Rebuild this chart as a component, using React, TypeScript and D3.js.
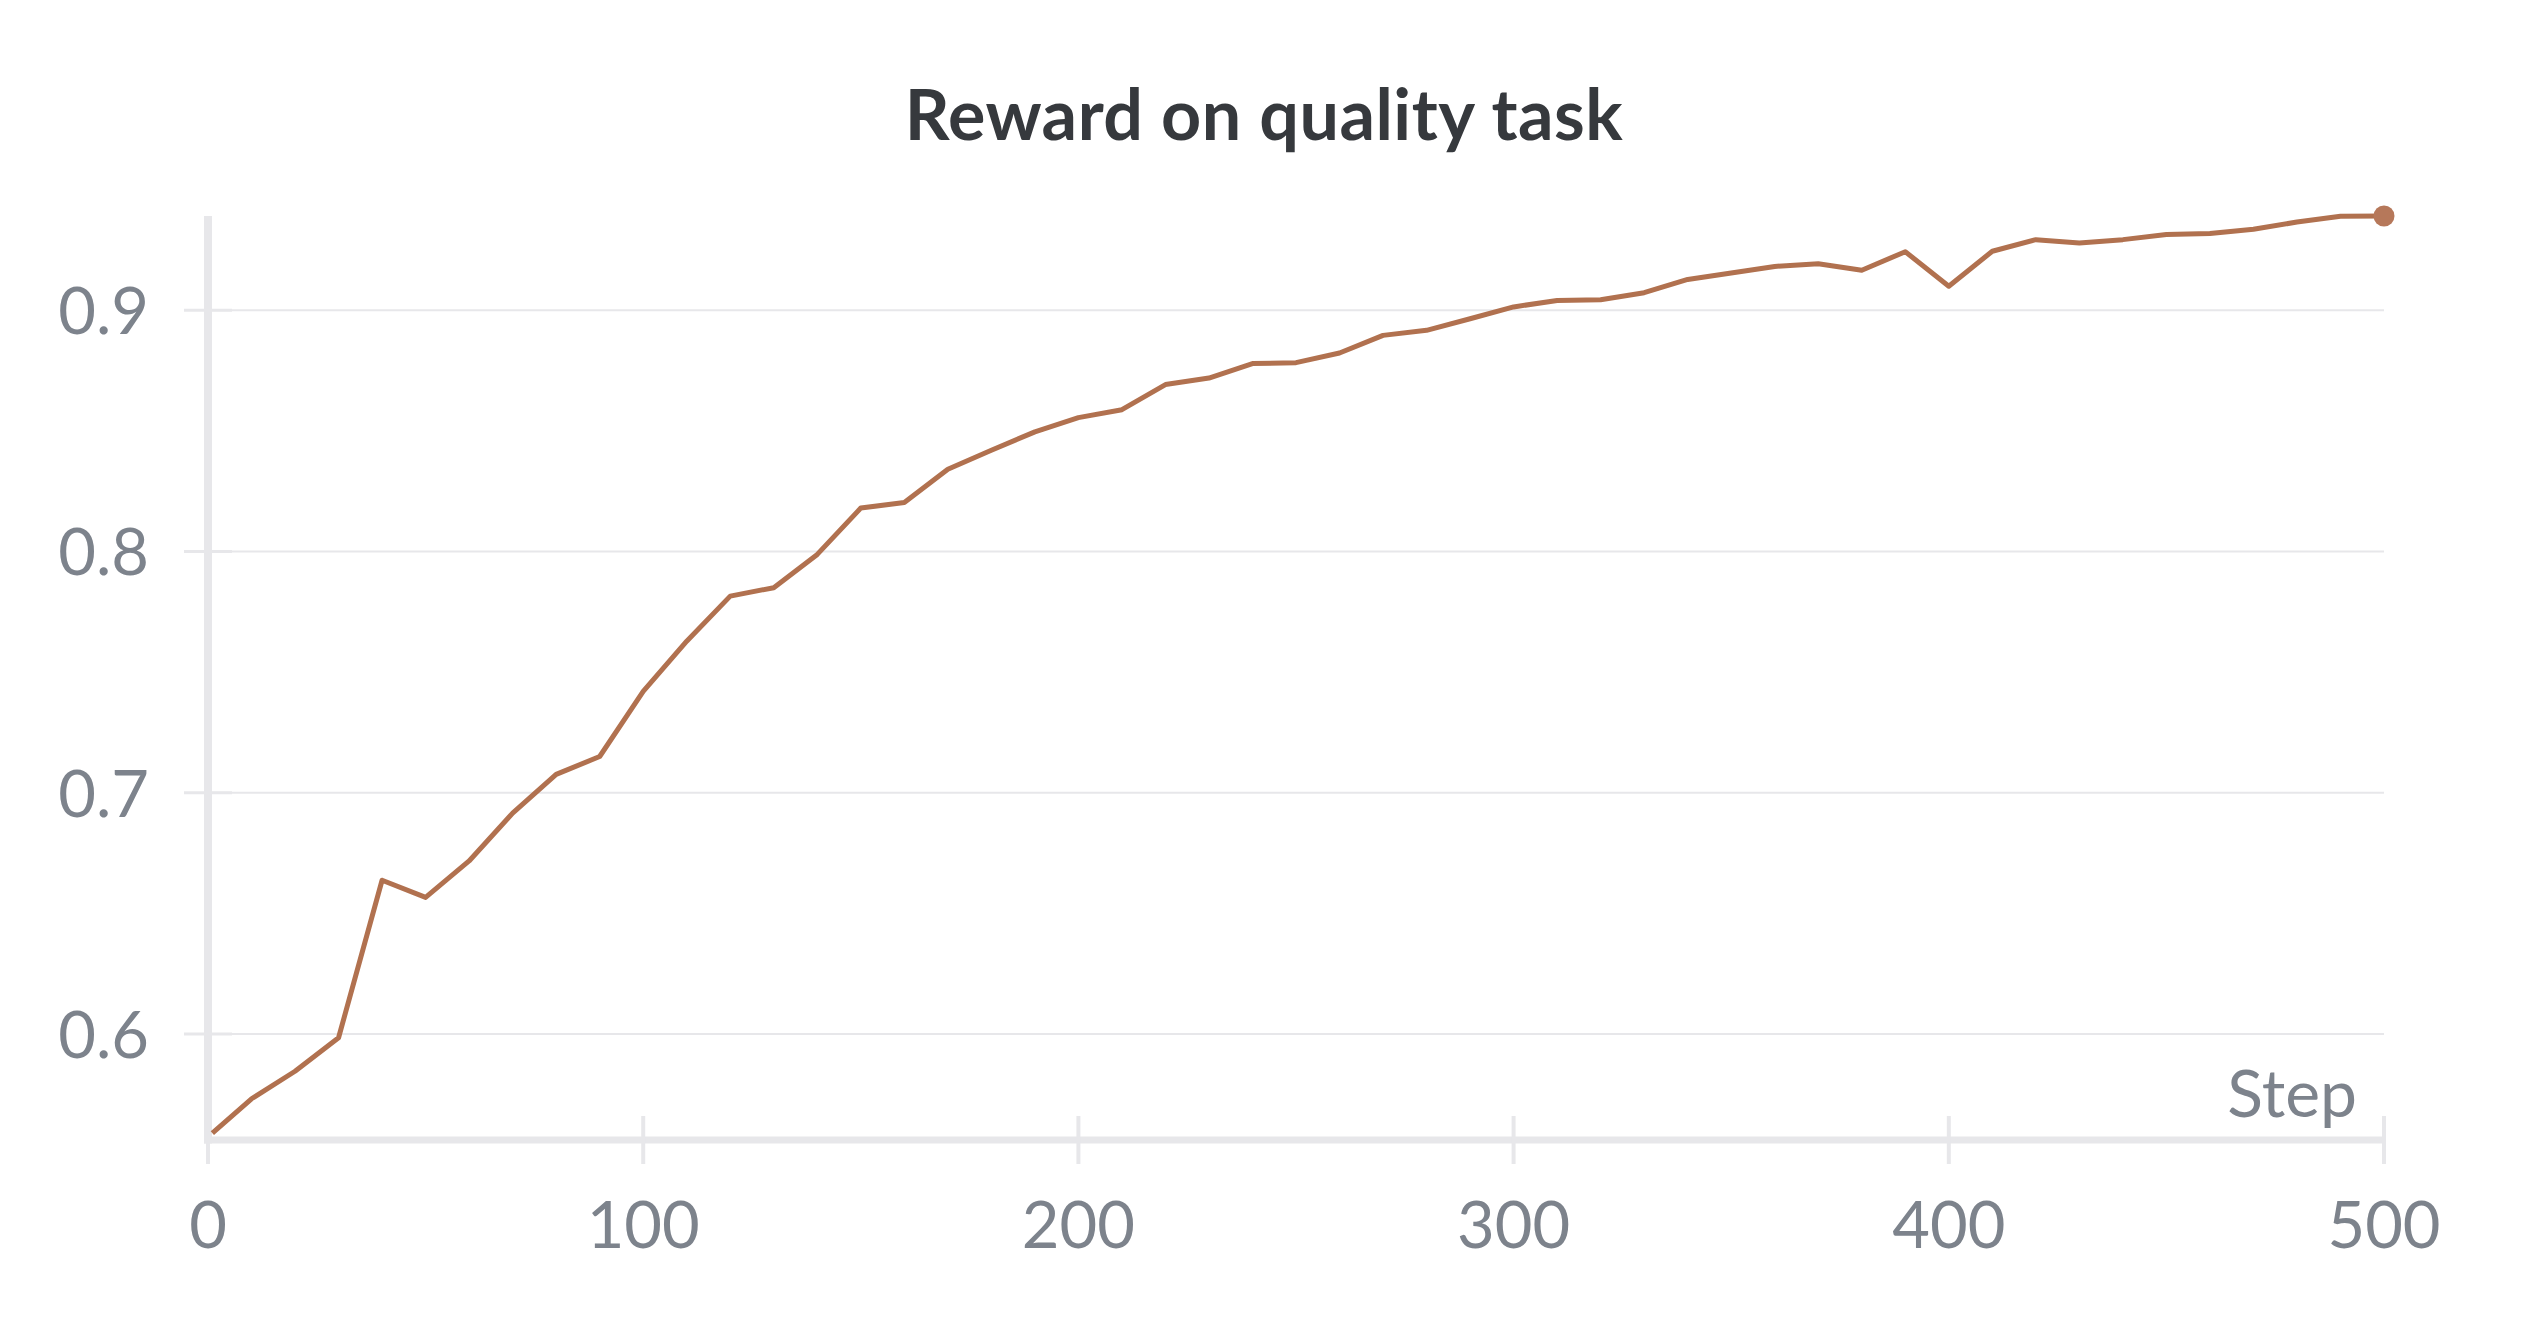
import { useEffect, useRef } from "react";
import * as d3 from "d3";

const steps = [
  1, 10, 20, 30, 40, 50, 60, 70, 80, 90, 100, 110, 120, 130, 140, 150, 160, 170, 180, 190, 200, 210, 220, 230, 240,
  250, 260, 270, 280, 290, 300, 310, 320, 330, 340, 350, 360, 370, 380, 390, 400, 410, 420, 430, 440, 450, 460, 470,
  480, 490, 500,
];

const rewards = [
  0.5588, 0.5731, 0.5845, 0.5984, 0.6637, 0.6566, 0.6717, 0.6915, 0.7076, 0.715, 0.742, 0.7628, 0.7815, 0.785, 0.7988,
  0.818, 0.8203, 0.8341, 0.842, 0.8496, 0.8555, 0.8588, 0.8692, 0.8719, 0.8779, 0.8783, 0.8823, 0.8896, 0.8917, 0.8965,
  0.9014, 0.9041, 0.9044, 0.9073, 0.9128, 0.9155, 0.9182, 0.9193, 0.9166, 0.9243, 0.91, 0.9245, 0.9293, 0.9279, 0.9293,
  0.9314, 0.9318, 0.9336, 0.9366, 0.939, 0.9391,
];

const xTicks = [0, 100, 200, 300, 400, 500];
const yTicks = [0.6, 0.7, 0.8, 0.9];

const title = "Reward on quality task";
const xLabel = "Step";

const yFloor = 0.556;

export default function App() {
  const ref = useRef<SVGSVGElement | null>(null);

  useEffect(() => {
    const node = ref.current;
    if (!node) return;

    const width = 2528;
    const height = 1328;
    const left = 208;
    const right = 2384;
    const top = 216;
    const bottom = 1140;

    const lineColor = "#b1714f";
    const gridColor = "#e7e7ea";
    const textColor = "#7d838c";
    const font = "Lato, 'Open Sans', sans-serif";

    const svg = d3.select(node);
    svg.selectAll("*").remove();
    svg.attr("width", width).attr("height", height).attr("viewBox", `0 0 ${width} ${height}`);

    const x = d3.scaleLinear().domain([0, 500]).range([left, right]);
    const y = d3
      .scaleLinear()
      .domain([yFloor, d3.max(rewards) ?? 1])
      .range([bottom, top]);

    // title
    svg
      .append("text")
      .attr("x", width / 2)
      .attr("y", 140)
      .attr("text-anchor", "middle")
      .attr("font-family", font)
      .attr("font-weight", 700)
      .attr("font-size", 70)
      .attr("letter-spacing", 0.5)
      .attr("fill", "#36393d")
      .text(title);

    // horizontal grid + y ticks
    const grid = svg.append("g");
    grid
      .selectAll("line.grid")
      .data(yTicks)
      .join("line")
      .attr("class", "grid")
      .attr("x1", left)
      .attr("x2", right)
      .attr("y1", (d) => y(d))
      .attr("y2", (d) => y(d))
      .attr("stroke", gridColor)
      .attr("stroke-width", 2);

    grid
      .selectAll("line.ytick")
      .data(yTicks)
      .join("line")
      .attr("class", "ytick")
      .attr("x1", 184)
      .attr("x2", 232)
      .attr("y1", (d) => y(d))
      .attr("y2", (d) => y(d))
      .attr("stroke", gridColor)
      .attr("stroke-width", 3);

    grid
      .selectAll("text")
      .data(yTicks)
      .join("text")
      .attr("x", 149)
      .attr("y", (d) => y(d) + 24)
      .attr("text-anchor", "end")
      .attr("font-family", font)
      .attr("font-size", 65)
      .attr("fill", textColor)
      .text((d) => d3.format(".1f")(d));

    // y axis line
    svg
      .append("line")
      .attr("x1", left)
      .attr("x2", left)
      .attr("y1", top)
      .attr("y2", bottom + 3.5)
      .attr("stroke", gridColor)
      .attr("stroke-width", 8);

    // x axis line and ticks
    svg
      .append("line")
      .attr("x1", left - 4)
      .attr("x2", right)
      .attr("y1", bottom)
      .attr("y2", bottom)
      .attr("stroke", gridColor)
      .attr("stroke-width", 7);

    svg
      .append("g")
      .selectAll("line")
      .data(xTicks)
      .join("line")
      .attr("x1", (d) => x(d))
      .attr("x2", (d) => x(d))
      .attr("y1", 1116)
      .attr("y2", 1164)
      .attr("stroke", gridColor)
      .attr("stroke-width", 4);

    svg
      .append("g")
      .selectAll("text")
      .data(xTicks)
      .join("text")
      .attr("x", (d) => x(d))
      .attr("y", 1248)
      .attr("text-anchor", "middle")
      .attr("font-family", font)
      .attr("font-size", 65)
      .attr("fill", textColor)
      .text((d) => String(d));

    svg
      .append("text")
      .attr("x", 2357)
      .attr("y", 1117)
      .attr("text-anchor", "end")
      .attr("font-family", font)
      .attr("font-size", 66)
      .attr("fill", textColor)
      .text(xLabel);

    // series
    const points = steps.map((step, i) => [step, rewards[i]] as [number, number]);
    const line = d3
      .line<[number, number]>()
      .x((d) => x(d[0]))
      .y((d) => y(d[1]));

    svg
      .append("path")
      .attr("d", line(points) ?? "")
      .attr("fill", "none")
      .attr("stroke", lineColor)
      .attr("stroke-width", 5)
      .attr("stroke-linejoin", "round");

    const last = points[points.length - 1];
    svg
      .append("circle")
      .attr("cx", x(last[0]))
      .attr("cy", y(last[1]))
      .attr("r", 10.5)
      .attr("fill", "#b6785a");
  }, []);

  return (
    <div style={{ position: "absolute", left: 0, top: 0, background: "#fff" }}>
      <svg ref={ref} style={{ display: "block" }} />
    </div>
  );
}
